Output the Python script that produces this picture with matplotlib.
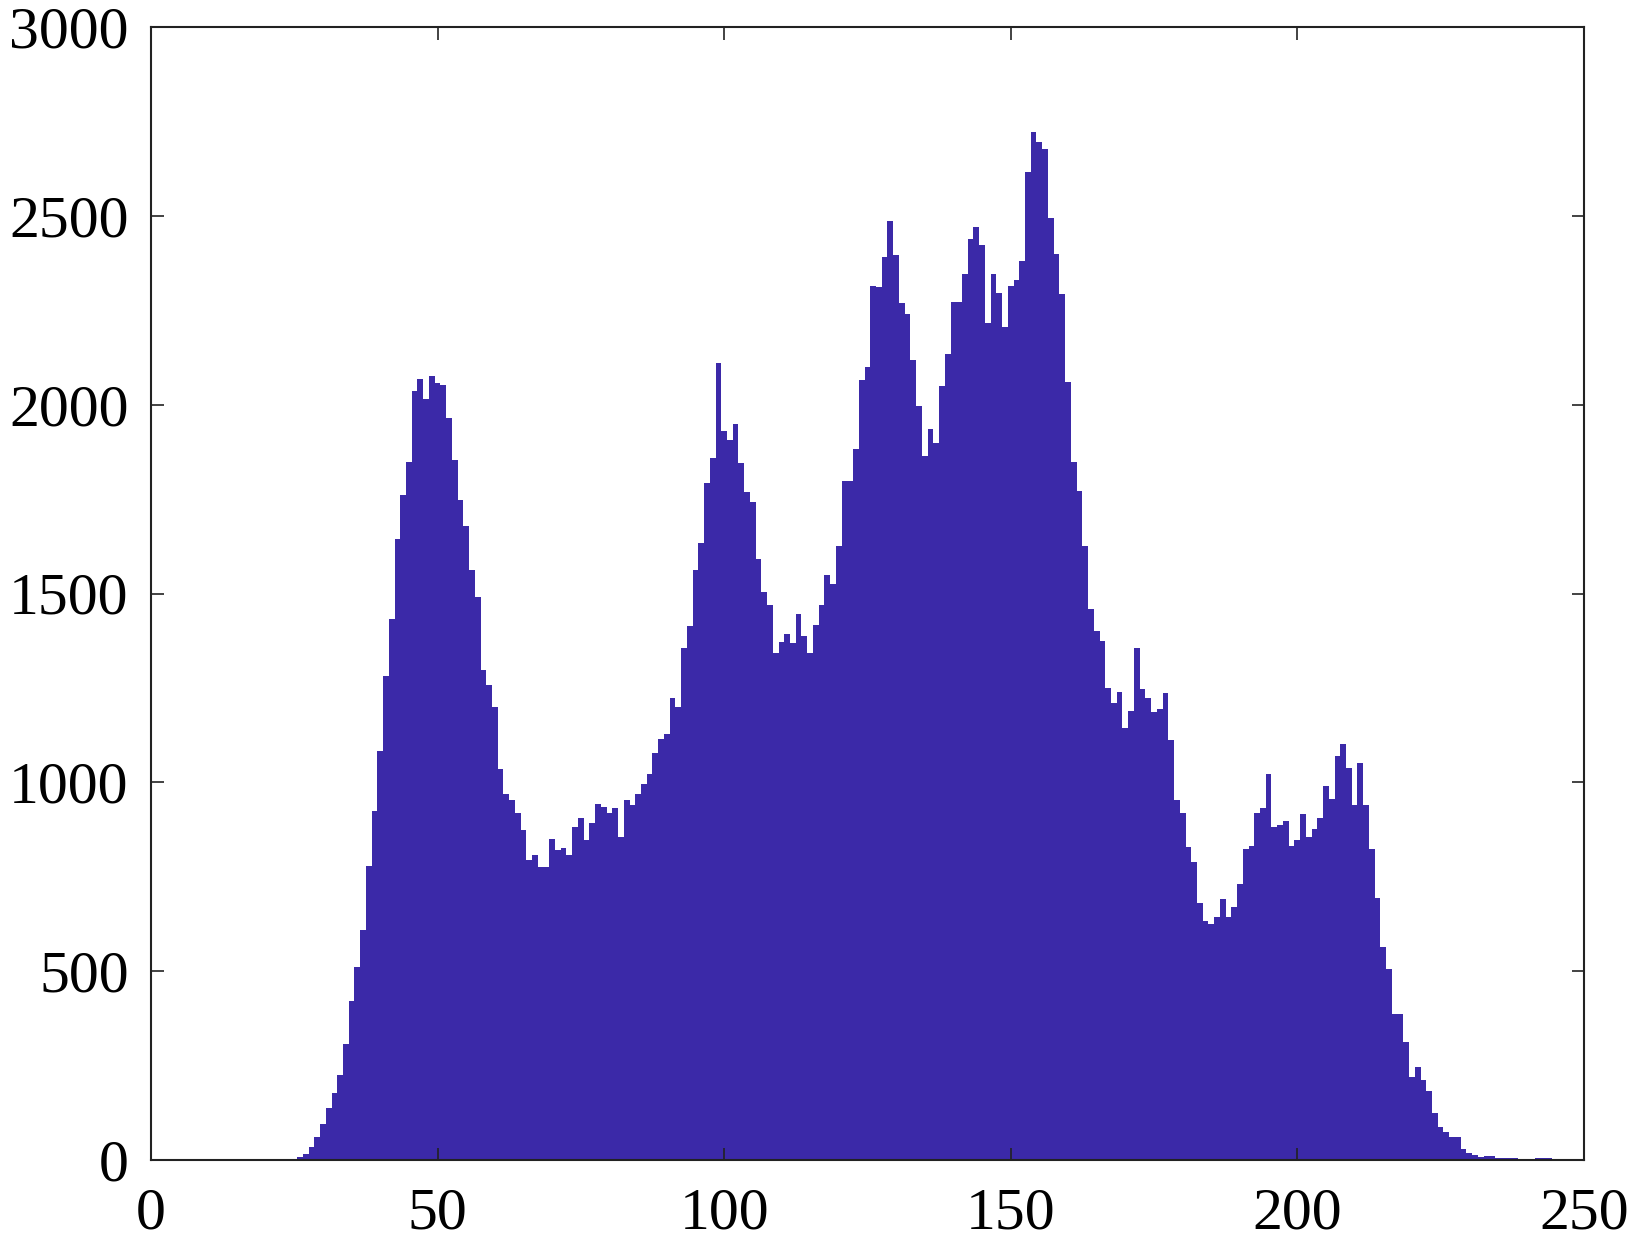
import numpy as np
import matplotlib
matplotlib.use("Agg")
import matplotlib.pyplot as plt

# grey level bins (0..255) and their pixel counts
first_bin = 25
counts = [
    3, 8, 16, 35, 62, 95, 138, 177, 225, 307,              # 25-34
    422, 511, 609, 779, 924, 1083, 1281, 1433, 1644, 1762,  # 35-44
    1849, 2037, 2068, 2014, 2075, 2057, 2053, 1966, 1853, 1748,  # 45-54
    1680, 1561, 1492, 1297, 1259, 1200, 1034, 969, 953, 918,    # 55-64
    874, 794, 807, 777, 777, 851, 820, 825, 807, 883,       # 65-74
    905, 848, 892, 943, 935, 919, 931, 854, 954, 941,       # 75-84
    968, 996, 1021, 1077, 1114, 1129, 1223, 1200, 1355, 1415,   # 85-94
    1562, 1635, 1793, 1860, 2111, 1931, 1906, 1948, 1845, 1769,  # 95-104
    1741, 1591, 1503, 1470, 1342, 1372, 1394, 1370, 1446, 1387,  # 105-114
    1342, 1417, 1470, 1549, 1524, 1627, 1798, 1797, 1883, 2065,  # 115-124
    2101, 2315, 2312, 2392, 2486, 2396, 2268, 2240, 2118, 1996,  # 125-134
    1864, 1935, 1898, 2049, 2133, 2273, 2273, 2346, 2438, 2471,  # 135-144
    2423, 2217, 2346, 2295, 2205, 2315, 2330, 2381, 2615, 2723,  # 145-154
    2695, 2676, 2493, 2398, 2292, 2061, 1847, 1772, 1626, 1458,  # 155-164
    1401, 1373, 1250, 1211, 1239, 1145, 1190, 1355, 1247, 1222,  # 165-174
    1187, 1194, 1236, 1112, 952, 920, 829, 789, 681, 632,   # 175-184
    625, 643, 691, 643, 669, 730, 823, 831, 918, 931,       # 185-194
    1021, 881, 886, 898, 831, 847, 915, 854, 876, 906,      # 195-204
    991, 955, 1070, 1101, 1037, 940, 1052, 940, 823, 695,   # 205-214
    563, 507, 386, 386, 313, 221, 245, 211, 183, 124,       # 215-224
    87, 75, 62, 62, 30, 18, 12, 7, 10, 10,                  # 225-234
    5, 4, 4, 4, 3, 3, 3, 5, 5, 4, 3,                        # 235-245
]
bins = np.arange(first_bin, first_bin + len(counts))

x_ticks = [0, 50, 100, 150, 200, 250]
y_ticks = [0, 500, 1000, 1500, 2000, 2500, 3000]

plt.rcParams['font.family'] = ['Liberation Serif', 'DejaVu Serif']

fig = plt.figure(figsize=(16.32, 12.5), dpi=100)
ax = fig.add_axes([0.0925, 0.072, 0.878, 0.9064])

ax.bar(bins, counts, width=1.0, color='#3B29A8', linewidth=0)

ax.set_xlim(0, 250)
ax.set_ylim(0, 3000)
ax.set_xticks(x_ticks)
ax.set_yticks(y_ticks)

for side in ax.spines.values():
    side.set_linewidth(1.5)
    side.set_color('#222222')

ax.tick_params(direction='in', length=9, width=1.2, top=True, right=True,
               labelsize=43, colors='#222222', labelcolor='black')
ax.tick_params(axis='x', pad=20)
ax.tick_params(axis='y', pad=16)

fig.savefig('out.png', dpi=100)
